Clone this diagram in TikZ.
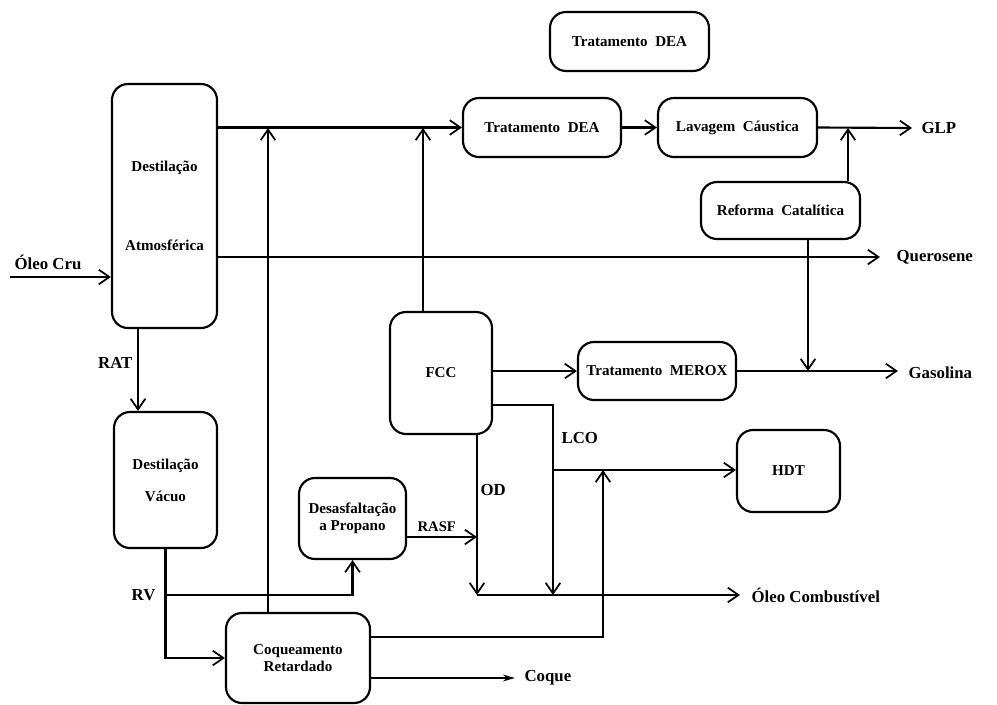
\documentclass[tikz,border=0pt]{standalone}
\usepackage{fontspec}
\setmainfont{Liberation Serif}
\usetikzlibrary{arrows.meta, calc}
\newcommand{\lbl}{\fontsize{11.3}{13}\selectfont\bfseries}
\newcommand{\strm}{\fontsize{12.6}{14}\selectfont\bfseries}
\tikzset{
    unit/.style={draw, rounded corners=12pt, line width=1.6pt, align=center, inner sep=2pt, font=\lbl},
    dims/.style 2 args={minimum width=#1, minimum height=#2},
    flow/.style={line width=1.6pt, -{Straight Barb[length=8pt,width=11pt,line width=1.3pt]}},
    pipe/.style={line width=1.6pt},
    tag/.style={font=\strm, inner sep=1pt}
}

\begin{document}
\begin{tikzpicture}[x=0.75pt, y=-0.75pt]
    \useasboundingbox (0,0) rectangle (997,704);
    % units
    \node[unit, dims={78.75pt}{183pt}] (atm) at (164.5,206) {Destilação\\[46pt]Atmosférica};
    \node[unit, dims={77.25pt}{102pt}] (vac) at (165.5,480) {Destilação\\[11pt]Vácuo};
    \node[unit, dims={108pt}{67.5pt}] (coq) at (298,658) {Coqueamento\\Retardado};
    \node[unit, dims={80.25pt}{60.75pt}] (desasf) at (352.5,518.5) {Desasfaltação\\a Propano};
    \node[unit, dims={76.5pt}{91.5pt}] (fcc) at (441,373) {FCC};
    \node[unit, dims={119.25pt}{44.25pt}] (dea0) at (629.5,41.5) {Tratamento~~DEA};
    \node[unit, dims={118.5pt}{44.25pt}] (dea) at (542,127.5) {Tratamento~~DEA};
    \node[unit, dims={119.25pt}{44.25pt}, text depth=0.3ex] (lav) at (737.5,127.5) {Lavagem~~Cáustica};
    \node[unit, dims={119.25pt}{42.75pt}] (ref) at (780.5,210.5) {Reforma~~Catalítica};
    \node[unit, dims={118.5pt}{43.5pt}] (merox) at (657,371) {Tratamento~~MEROX};
    \node[unit, dims={77.25pt}{61.5pt}] (hdt) at (788.5,471) {HDT};

    % free ends and junctions
    \coordinate (feed) at (10,277);
    \coordinate (jA) at (268,128);
    \coordinate (jB) at (423,128);
    \coordinate (jC) at (848,128);
    \coordinate (glp) at (912,128);
    \coordinate (qer) at (880,257);
    \coordinate (jD) at (808,371);
    \coordinate (gas) at (898,371);
    \coordinate (rat) at (138,0);
    \coordinate (rv) at (165.5,595);
    \coordinate (lco) at (553,405);
    \coordinate (jE) at (553,470);
    \coordinate (odA) at (477,595);
    \coordinate (odB) at (553,595);
    \coordinate (jF) at (477,537);
    \coordinate (comb) at (740,595);
    \coordinate (kA) at (603,637);
    \coordinate (jG) at (603,470);
    \coordinate (coque) at (515,678);

    % labels
    \node[tag] (lOleo) at (48,262) {Óleo Cru};
    \node[tag, anchor=west] (lGlp) at (920,128) {GLP};
    \node[tag, anchor=west] (lQer) at (895,257) {Querosene};
    \node[tag, anchor=west] (lGas) at (907,373) {Gasolina};
    \node[tag, anchor=east] (lRat) at (134,363) {RAT};
    \node[tag, anchor=east] (lRv) at (157,595) {RV};
    \node[tag, anchor=west] (lLco) at (560,438) {LCO};
    \node[tag, anchor=west] (lOd) at (479,490) {OD};
    \node[tag, anchor=west, font=\fontsize{11}{13}\selectfont\bfseries] (lRasf) at (416,527) {RASF};
    \node[tag, anchor=west] (lComb) at (750,595) {Óleo Combustível};
    \node[tag, anchor=west] (lCoque) at (523,678) {Coque};

    % streams
    \draw[flow] (feed) -- (feed -| atm.west);
    \draw[flow] (atm.east |- dea.west) -- (dea.west);
    \draw[flow] (atm.east |- qer) -- (qer);
    \draw[flow] (jA |- coq.north) -- (jA);
    \draw[flow] (jB |- fcc.north) -- (jB);
    \draw[flow] (dea.east) -- (lav.west);
    \draw[flow] (lav.east) -- (glp);
    \draw[flow] (jC |- ref.north) -- (jC);
    \draw[flow] (jD |- ref.south) -- (jD);
    \draw[flow] (fcc.east |- merox.west) -- (merox.west);
    \draw[flow] (merox.east) -- (gas);
    \draw[flow] (rat |- atm.south) -- (rat |- vac.north);
    \draw[flow] (vac.south) |- (coq.west);
    \draw[flow] (rv) -| (desasf.south);
    \draw[flow] (fcc.east |- lco) -- (lco) -- (odB);
    \draw[flow] (jE) -- (jE -| hdt.west);
    \draw[flow] (odA |- fcc.south) -- (odA);
    \draw[flow] (jF -| desasf.east) -- (jF);
    \draw[flow] (odA) -- (comb);
    \draw[flow] (kA -| coq.east) -- (kA) -- (jG);
    \draw[pipe, -{Stealth[length=9pt,width=5pt]}] (coque -| coq.east) -- (coque);
\end{tikzpicture}
\end{document}
